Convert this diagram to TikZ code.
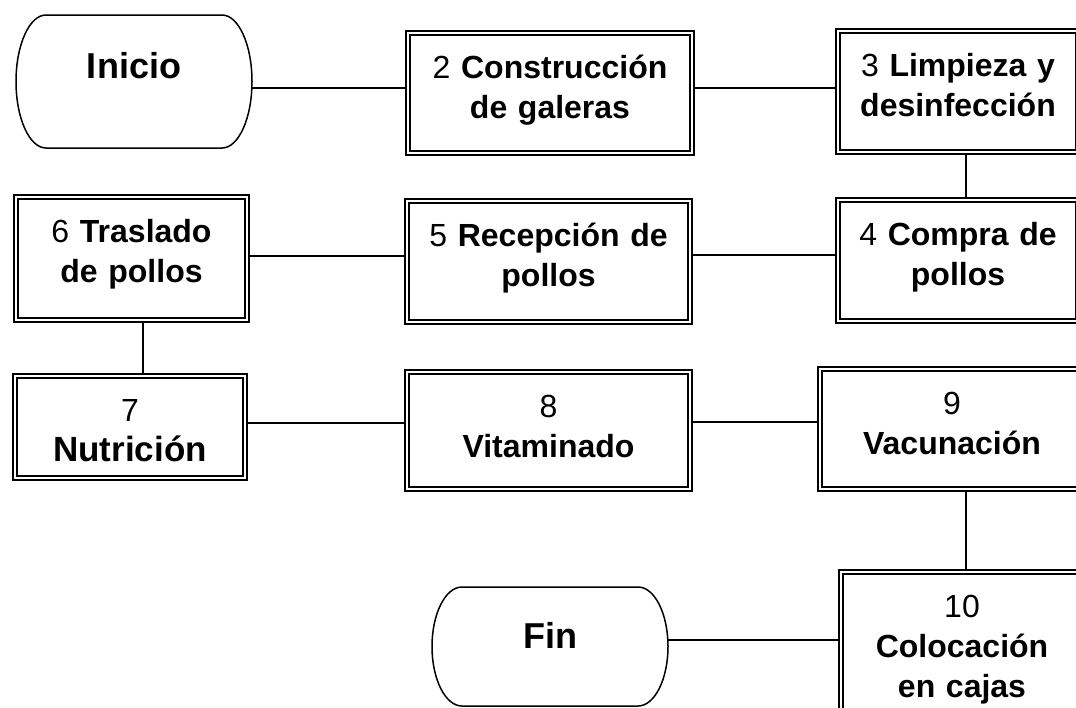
\documentclass[tikz,border=0pt]{standalone}
\usepackage{fontspec}
\setmainfont{Liberation Sans}
\newcommand{\nro}[1]{{\mdseries #1}}
\begin{document}
\begin{tikzpicture}[x=1pt, y=-1pt,
  paso/.style={draw, double, line width=2.4pt, double distance=2pt, inner sep=0pt, outer sep=3.4pt,
    align=center, text height=45pt, font=\bfseries\fontsize{32}{40}\selectfont},
  term/.style={minimum width=236pt, inner sep=0pt, outer sep=0pt},
  termtexto/.style={font=\bfseries\fontsize{36}{43}\selectfont},
  borde/.style={line width=1.5pt},
  linea/.style={line width=2pt}]
\useasboundingbox (0,0) rectangle (1076,707);
\fill[white] (0,0) rectangle (1076,707);
\clip (0,0) rectangle (1076,707);

% inicio y fin
\node[term, minimum height=133pt, label={[termtexto, yshift=15.5pt]center:Inicio}] (ini) at (134,81.5) {};
\node[term, minimum height=119pt, label={[termtexto, yshift=11pt]center:Fin}] (fin) at (550,646.5) {};
\draw[borde] ([xshift=30pt]ini.north west) -- ([xshift=-30pt]ini.north east)
  arc[start angle=90, end angle=-90, x radius=30pt, y radius=66.5pt]
  -- ([xshift=30pt]ini.south west)
  arc[start angle=270, end angle=90, x radius=30pt, y radius=66.5pt] -- cycle;
\draw[borde] ([xshift=30pt]fin.north west) -- ([xshift=-30pt]fin.north east)
  arc[start angle=90, end angle=-90, x radius=30pt, y radius=59.5pt]
  -- ([xshift=30pt]fin.south west)
  arc[start angle=270, end angle=90, x radius=30pt, y radius=59.5pt] -- cycle;

% pasos
\node[paso, text width=284pt, text depth=75pt] (c2) at (550,93) {\nro{2} Construcción\\de galeras};
\node[paso, text width=240pt, text depth=76pt] (c3) at (958,91.5) {\nro{3} Limpieza y\\desinfección};
\node[paso, text width=240pt, text depth=76pt] (c4) at (958,260.5) {\nro{4} Compra de\\pollos};
\node[paso, text width=283pt, text depth=76pt] (c5) at (548.5,261.5) {\nro{5} Recepción de\\pollos};
\node[paso, text width=231pt, text depth=78pt] (c6) at (131.5,258.5) {\nro{6} Traslado\\de pollos};
\node[paso, text width=230pt, text depth=57pt] (c7) at (130,427) {\nro{7}\\{\fontsize{35}{40}\selectfont Nutrición}};
\node[paso, text width=283pt, text depth=72pt] (c8) at (548.5,430.5) {\nro{8}\\Vitaminado};
\node[paso, text width=264pt, text depth=75pt] (c9) at (952,429) {\nro{9}\\Vacunación};
\node[paso, text width=242pt, text depth=105pt] (c10) at (962,647) {\nro{10}\\Colocación\\en cajas};

% conectores
\draw[linea] ([yshift=-6.5pt]ini.east) -- ([yshift=-6.5pt]ini.east -| c2.west);
\draw[linea] ([yshift=5pt]c2.east) -- ([yshift=5pt]c2.east -| c3.west);
\draw[linea] ([xshift=8pt]c3.south) -- ([xshift=8pt]c3.south |- c4.north);
\draw[linea] ([yshift=5.5pt]c4.west) -- ([yshift=5.5pt]c4.west -| c5.east);
\draw[linea] ([yshift=5.5pt]c5.west) -- ([yshift=5.5pt]c5.west -| c6.east);
\draw[linea] ([xshift=11.5pt]c6.south) -- ([xshift=11.5pt]c6.south |- c7.north);
\draw[linea] ([yshift=4pt]c7.east) -- ([yshift=4pt]c7.east -| c8.west);
\draw[linea] ([yshift=8.5pt]c8.east) -- ([yshift=8.5pt]c8.east -| c9.west);
\draw[linea] ([xshift=14pt]c9.south) -- ([xshift=14pt]c9.south |- c10.north);
\draw[linea] ([yshift=6.5pt]fin.east) -- ([yshift=6.5pt]fin.east -| c10.west);
\end{tikzpicture}
\end{document}
